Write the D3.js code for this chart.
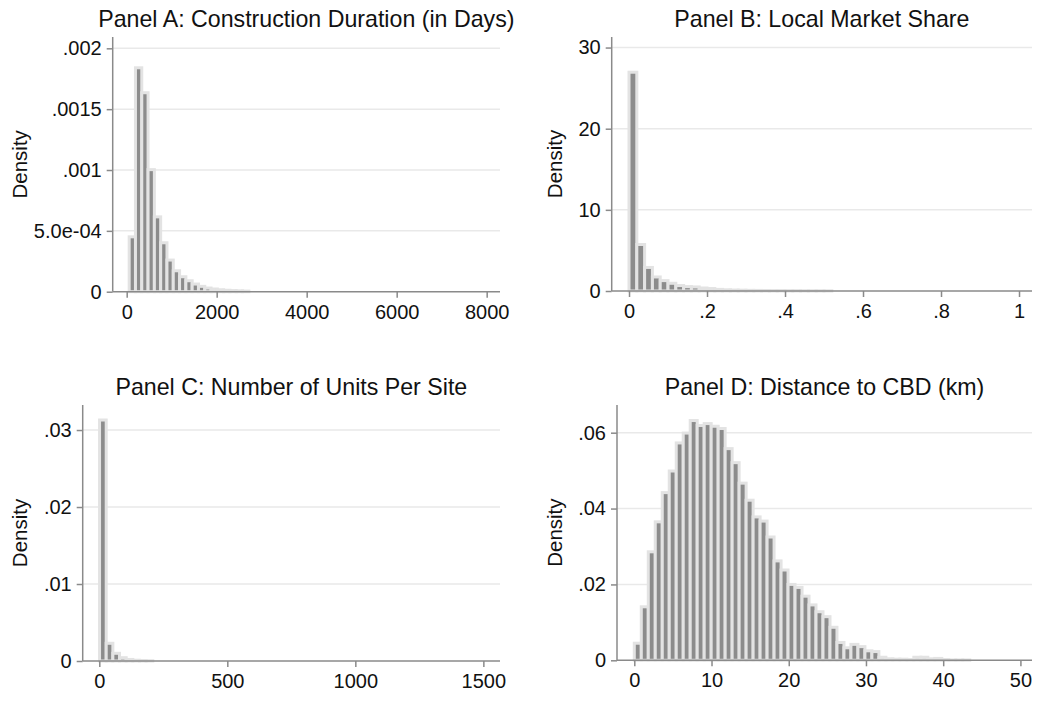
<!DOCTYPE html>
<html><head><meta charset="utf-8">
<script src="https://cdn.jsdelivr.net/npm/d3@7"></script>
<style>body{margin:0;background:#fff;} svg{display:block;font-family:"Liberation Sans",Arial,sans-serif;}</style>
</head><body>
<svg id="c" width="1038" height="702"></svg>
<script>
// ---- Data ----
const titles = ["Panel A: Construction Duration (in Days)", "Panel B: Local Market Share", "Panel C: Number of Units Per Site", "Panel D: Distance to CBD (km)"];
// Panel A: construction duration (days), bins start 55, width 140
const binStartA = 55, binWidthA = 140;
const densityA = [0.000451, 0.00184, 0.001635, 0.001003, 0.000615, 0.000402, 0.00026, 0.000172, 0.000123, 0.00009, 0.000063, 0.000044, 0.00003, 0.000022, 0.000016, 0.000012, 0.000009, 0.000007, 0.000005];
const xTicksA = [0, 2000, 4000, 6000, 8000];
const yTicksA = [0, 0.0005, 0.001, 0.0015, 0.002];
const yLabelsA = ["0", "5.0e-04", ".001", ".0015", ".002"];
// Panel B: local market share, bins start 0, width 0.02
const binStartB = 0, binWidthB = 0.02;
const densityB = [26.96, 5.73, 2.9, 1.73, 1.28, 0.95, 0.67, 0.54, 0.5, 0.37, 0.3, 0.2, 0.15, 0.12, 0.1, 0.08, 0.07, 0.06, 0.05, 0.05, 0.04, 0.04, 0.03, 0.03, 0.03, 0.02];
const xTicksB = [0, 0.2, 0.4, 0.6, 0.8, 1];
const xLabelsB = ["0", ".2", ".4", ".6", ".8", "1"];
const yTicksB = [0, 10, 20, 30];
// Panel C: number of units per site, bins start 1, width 26
const binStartC = 1, binWidthC = 26;
const densityC = [0.0313, 0.0023, 0.001, 0.00043, 0.0002, 0.0001, 0.00006, 0.00003];
const xTicksC = [0, 500, 1000, 1500];
const yTicksC = [0, 0.01, 0.02, 0.03];
const yLabelsC = ["0", ".01", ".02", ".03"];
// Panel D: distance to CBD (km), bins start 0, width 0.905
const binStartD = 0, binWidthD = 0.905;
const densityD = [0.0045, 0.0141, 0.0286, 0.0365, 0.0442, 0.0499, 0.0573, 0.0599, 0.0632, 0.0619, 0.0624, 0.0617, 0.0611, 0.0558, 0.0521, 0.0467, 0.0422, 0.0378, 0.0367, 0.0325, 0.0262, 0.0238, 0.02, 0.0192, 0.0169, 0.0146, 0.0128, 0.0115, 0.0087, 0.0047, 0.0033, 0.0042, 0.0036, 0.0025, 0.0023, 0.0008, 0.0004, 0.0003, 0.0003, 0.0002, 0.0008, 0.0008, 0.0004, 0.0005, 0.0002, 0.0001, 0.0001, 0.0001];
const xTicksD = [0, 10, 20, 30, 40, 50];
const yTicksD = [0, 0.02, 0.04, 0.06];
const yLabelsD = ["0", ".02", ".04", ".06"];

const panels = [
  {title: titles[0], start: binStartA, width: binWidthA, dens: densityA, xt: xTicksA, xl: xTicksA.map(String), yt: yTicksA, yl: yLabelsA,
   xd: [-311, 8296], xr: [112.7, 500], yd: [0, 0.002093], yr: [291.7, 37]},
  {title: titles[1], start: binStartB, width: binWidthB, dens: densityB, xt: xTicksB, xl: xLabelsB, yt: yTicksB, yl: yTicksB.map(String),
   xd: [-0.0444, 1.0333], xr: [611.7, 1032], yd: [0, 31.3], yr: [291, 37]},
  {title: titles[2], start: binStartC, width: binWidthC, dens: densityC, xt: xTicksC, xl: xTicksC.map(String), yt: yTicksC, yl: yLabelsC,
   xd: [-64.8, 1565], xr: [82.7, 500], yd: [0, 0.03325], yr: [661, 405]},
  {title: titles[3], start: binStartD, width: binWidthD, dens: densityD, xt: xTicksD, xl: xTicksD.map(String), yt: yTicksD, yl: yLabelsD,
   xd: [-2.24, 51.5], xr: [617, 1032], yd: [0, 0.0673], yr: [660.3, 405]}
];

const svg = d3.select("#c");
const AX = "#8a8a8a", GRID = "#e9e9e9", FILL = "#8c8c8c", EDGE = "#e3e3e3";
const FONT = "Liberation Sans, Arial, sans-serif";

panels.forEach(p => {
  const x = d3.scaleLinear().domain(p.xd).range(p.xr);
  const y = d3.scaleLinear().domain(p.yd).range(p.yr);
  const g = svg.append("g");
  const [x0, x1] = p.xr, [yb, yt] = p.yr;
  // gridlines
  g.selectAll("line.grid").data(p.yt.filter(v => v > 0)).join("line")
    .attr("x1", x0).attr("x2", x1).attr("y1", d => y(d)).attr("y2", d => y(d))
    .attr("stroke", GRID).attr("stroke-width", 1.5);
  // bars
  const bins = p.dens.map((d, i) => ({x0: p.start + i * p.width, x1: p.start + (i + 1) * p.width, v: d}));
  g.selectAll("rect.bar").data(bins).join("rect")
    .attr("x", d => x(d.x0)).attr("width", d => x(d.x1) - x(d.x0))
    .attr("y", d => y(d.v)).attr("height", d => yb - y(d.v))
    .attr("fill", FILL).attr("stroke", EDGE).attr("stroke-width", 3);
  // y axis
  const ya = d3.axisLeft(y).tickValues(p.yt).tickFormat((d, i) => p.yl[i]).tickSize(6).tickPadding(5);
  const yg = g.append("g").attr("transform", `translate(${x0},0)`).call(ya);
  yg.select(".domain").attr("d", `M0,${yt}V${yb}`).attr("stroke", AX).attr("stroke-width", 1.5);
  yg.selectAll(".tick line").attr("stroke", AX).attr("stroke-width", 1.5);
  yg.selectAll(".tick text").attr("font-size", 20).attr("fill", "#111").attr("font-family", FONT);
  // x axis
  const xa = d3.axisBottom(x).tickValues(p.xt).tickFormat((d, i) => p.xl[i]).tickSize(6).tickPadding(7);
  const xg = g.append("g").attr("transform", `translate(0,${yb})`).call(xa);
  xg.select(".domain").attr("d", `M${x0},0H${x1}`).attr("stroke", AX).attr("stroke-width", 1.5);
  xg.selectAll(".tick line").attr("stroke", AX).attr("stroke-width", 1.5);
  xg.selectAll(".tick text").attr("font-size", 20).attr("fill", "#111").attr("font-family", FONT);
  // title
  g.append("text").attr("x", (x0 + x1) / 2).attr("y", yt - 10).attr("text-anchor", "middle")
    .attr("font-size", 23.2).attr("fill", "#111").text(p.title);
  // y label
  const lx = x0 < 300 ? 20 : 555;
  g.append("text").attr("transform", `translate(${lx},${(yt + yb) / 2}) rotate(-90)`)
    .attr("text-anchor", "middle").attr("dy", "0.35em").attr("font-size", 20.5).attr("fill", "#111").text("Density");
});
</script>
</body></html>
